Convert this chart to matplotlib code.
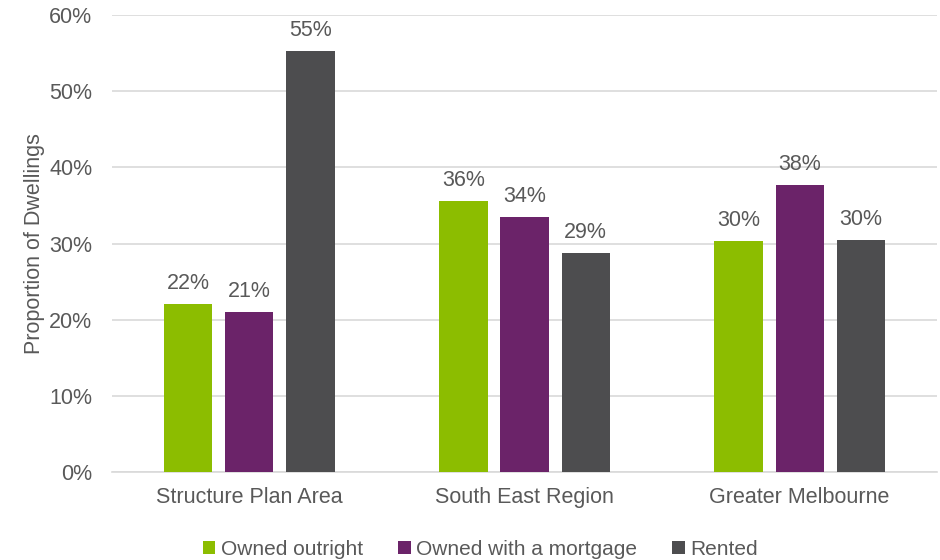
import numpy as np
import matplotlib
matplotlib.use("Agg")
import matplotlib.pyplot as plt
from matplotlib.ticker import PercentFormatter

plt.rcParams['font.family'] = ['Liberation Sans', 'DejaVu Sans']

# Housing tenure by area (share of dwellings, %)
areas = ["Structure Plan Area", "South East Region", "Greater Melbourne"]
series_names = ["Owned outright", "Owned with a mortgage", "Rented"]
owned_outright = [22.1, 35.6, 30.4]
owned_mortgage = [21.0, 33.5, 37.7]
rented = [55.3, 28.8, 30.5]

COLOURS = ["#8CBD00", "#6B2369", "#4D4D4F"]
TEXT = "#595959"
GRID = "#D9D9D9"
FS = 15.5

fig = plt.figure(figsize=(9.4, 5.6), dpi=100)
ax = fig.add_axes([0.119, 0.157, 0.878, 0.816])

x = np.arange(len(areas))
width = 0.175
offset = 0.222
for i, (vals, name) in enumerate(zip([owned_outright, owned_mortgage, rented], series_names)):
    bars = ax.bar(x + (i - 1) * offset, vals, width, color=COLOURS[i],
                  label=name, zorder=3)
    for b, v in zip(bars, vals):
        ax.annotate(f"{v:.0f}%", xy=(b.get_x() + b.get_width() / 2, v),
                    xytext=(0, 7), textcoords="offset points",
                    ha="center", va="bottom", fontsize=FS, color=TEXT)

ax.set_xlim(-0.5, 2.5)
ax.set_ylim(0, 60)
ax.set_yticks(np.arange(0, 61, 10))
ax.yaxis.set_major_formatter(PercentFormatter(decimals=0))
ax.grid(axis="y", color=GRID, linewidth=1.2, zorder=0)
ax.set_xticks(x)
ax.set_xticklabels(areas)
ax.tick_params(axis="both", length=0, labelsize=FS, labelcolor=TEXT)
ax.tick_params(axis="x", pad=11)
ax.tick_params(axis="y", pad=14)
for s in ["top", "right", "left"]:
    ax.spines[s].set_visible(False)
ax.spines["bottom"].set_color(GRID)
ax.spines["bottom"].set_linewidth(1.2)

ax.set_ylabel("Proportion of Dwellings", fontsize=FS, color=TEXT, labelpad=3)

# legend sits centred under the whole figure
fig.legend(*ax.get_legend_handles_labels(), loc="upper center",
           bbox_to_anchor=(0.511, 0.055), ncol=3,
           frameon=False, fontsize=15, labelcolor=TEXT,
           handlelength=0.6, handleheight=0.6, handletextpad=0.25,
           columnspacing=1.7, borderpad=0)

fig.savefig("out.png", dpi=100)
